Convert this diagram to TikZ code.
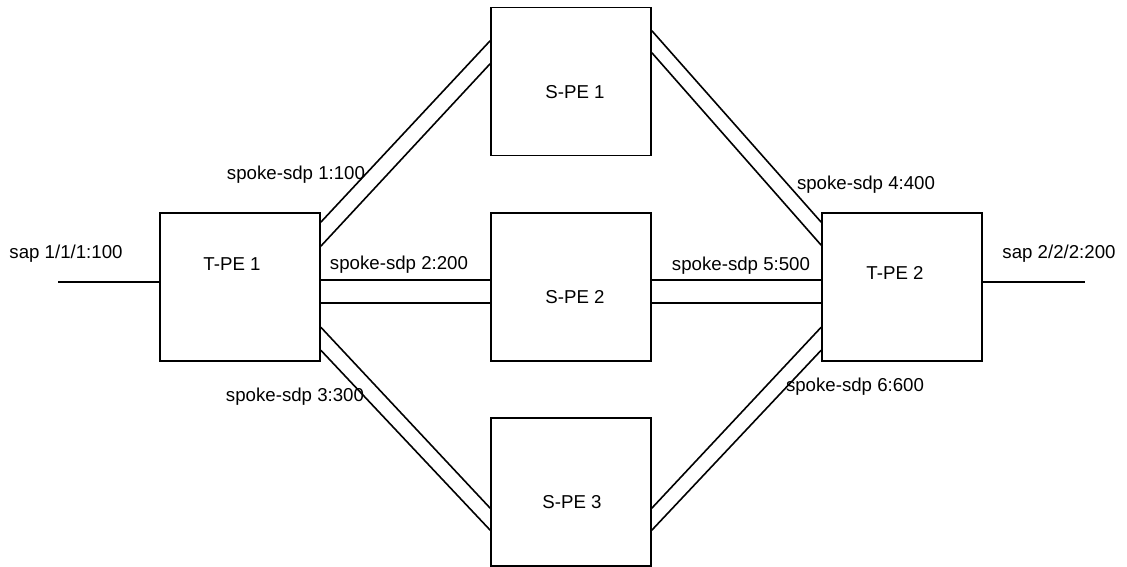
\documentclass[tikz,border=0pt]{standalone}
\usepackage{fontspec}
\setmainfont{Liberation Sans}
\usetikzlibrary{calc}

\tikzset{
    pebox/.style={draw, line width=1.2pt, minimum width=120pt, minimum height=111pt, inner sep=0pt},
    lbl/.style={inner sep=0pt, text height=10pt, text depth=0pt, font=\fontsize{14}{16}\selectfont},
    sdp/.style={line width=1.2pt},
}

\begin{document}
\begin{tikzpicture}[x=0.75pt, y=-0.75pt]
        \useasboundingbox (0,0) rectangle (1127,567);
        % routers
        \node[pebox] (tpe1) at (240,287) {};
        \node[pebox] (spe1) at (571,81.5) {};
        \node[pebox] (spe2) at (571,287) {};
        \node[pebox] (spe3) at (571,492) {};
        \node[pebox] (tpe2) at (902,287) {};
        \node[lbl] (tpe1txt) at (232,264) {T-PE 1};
        \node[lbl] (spe1txt) at (575,92) {S-PE 1};
        \node[lbl] (spe2txt) at (575,297) {S-PE 2};
        \node[lbl] (spe3txt) at (572,502) {S-PE 3};
        \node[lbl] (tpe2txt) at (895,273) {T-PE 2};
        % access lines
        \coordinate (sapl) at (58,282);
        \coordinate (sapr) at (1085,282);
        \draw[sdp] (sapl) -- (tpe1.west |- sapl);
        \draw[sdp] (tpe2.east |- sapr) -- (sapr);
        \node[lbl] (sap1) at (66,252) {sap 1/1/1:100};
        \node[lbl] (sap2) at (1059,252) {sap 2/2/2:200};
        % spoke sdps, two lines each
        \draw[sdp] ($(tpe1.north east)+(0,10)$) -- ($(spe1.north west)+(0,34)$);
        \draw[sdp] ($(tpe1.north east)+(0,34)$) -- ($(spe1.north west)+(0,57)$);
        \draw[sdp] ($(tpe1.north east)+(0,68)$) -- ($(spe2.north west)+(0,68)$);
        \draw[sdp] ($(tpe1.north east)+(0,91)$) -- ($(spe2.north west)+(0,91)$);
        \draw[sdp] ($(tpe1.north east)+(0,115)$) -- ($(spe3.north west)+(0,91)$);
        \draw[sdp] ($(tpe1.north east)+(0,138)$) -- ($(spe3.north west)+(0,113)$);
        \draw[sdp] ($(spe1.north east)+(0,24)$) -- ($(tpe2.north west)+(0,10)$);
        \draw[sdp] ($(spe1.north east)+(0,46)$) -- ($(tpe2.north west)+(0,33)$);
        \draw[sdp] ($(spe2.north east)+(0,68)$) -- ($(tpe2.north west)+(0,68)$);
        \draw[sdp] ($(spe2.north east)+(0,91)$) -- ($(tpe2.north west)+(0,91)$);
        \draw[sdp] ($(spe3.north east)+(0,91)$) -- ($(tpe2.north west)+(0,115)$);
        \draw[sdp] ($(spe3.north east)+(0,113)$) -- ($(tpe2.north west)+(0,138)$);
        \node[lbl] (sdp1) at (296,173) {spoke-sdp 1:100};
        \node[lbl] (sdp2) at (399,263) {spoke-sdp 2:200};
        \node[lbl] (sdp3) at (295,395) {spoke-sdp 3:300};
        \node[lbl] (sdp4) at (866,183) {spoke-sdp 4:400};
        \node[lbl] (sdp5) at (741,264) {spoke-sdp 5:500};
        \node[lbl] (sdp6) at (855,385) {spoke-sdp 6:600};
    \end{tikzpicture}
\end{document}
